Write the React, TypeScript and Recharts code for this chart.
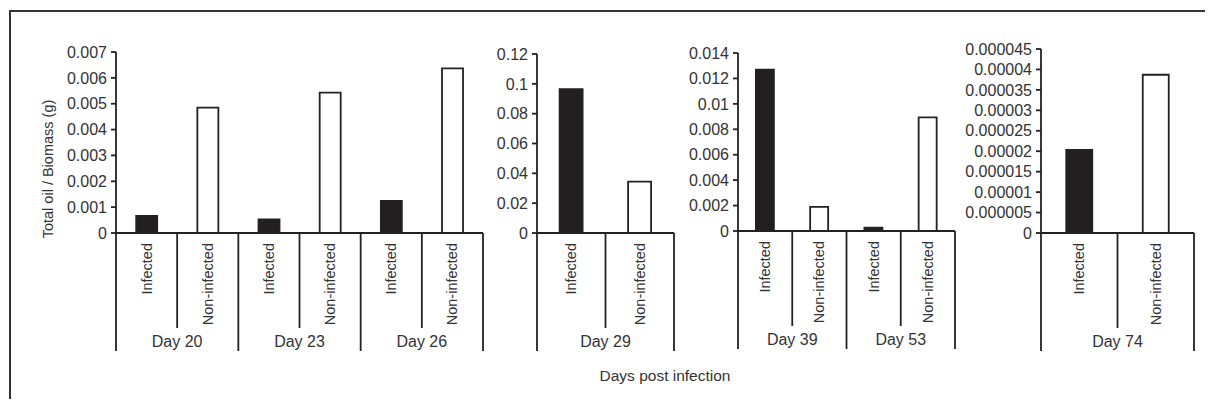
import { BarChart, Bar, XAxis, YAxis, Cell } from 'recharts';

const DAYS = ['Day 20', 'Day 23', 'Day 26', 'Day 29', 'Day 39', 'Day 53', 'Day 74'];
const GROUPS = ['Infected', 'Non-infected'];
const INFECTED = [0.00066, 0.00053, 0.00124, 0.0965, 0.0127, 0.00026, 0.0000203];
const NON_INFECTED = [0.00485, 0.00543, 0.00637, 0.0345, 0.0019, 0.00893, 0.0000387];

const TICKS_A = [0, 0.001, 0.002, 0.003, 0.004, 0.005, 0.006, 0.007];
const TICKS_B = [0, 0.02, 0.04, 0.06, 0.08, 0.1, 0.12];
const TICKS_C = [0, 0.002, 0.004, 0.006, 0.008, 0.01, 0.012, 0.014];
const TICKS_D = [0, 0.000005, 0.00001, 0.000015, 0.00002, 0.000025, 0.00003, 0.000035, 0.00004, 0.000045];

const INK = '#222';
const SW = 1.8;
const FONT = '"Liberation Sans", Arial, Helvetica, sans-serif';

// which days go in which panel, plus where each panel sits on the page
const PANELS = [
  { days: [0, 1, 2], ticks: TICKS_A, axisX: 116, endX: 483, topY: 52, zeroY: 233, yw: 100 },
  { days: [3], ticks: TICKS_B, axisX: 537, endX: 674, topY: 54, zeroY: 233, yw: 70 },
  { days: [4, 5], ticks: TICKS_C, axisX: 738, endX: 955, topY: 53, zeroY: 231, yw: 70 },
  { days: [6], ticks: TICKS_D, axisX: 1041, endX: 1194, topY: 49, zeroY: 233, yw: 90 },
];

type Row = { key: string; day: string; group: string; value: number };

function CatTick(props: any) {
  const { x, y, index, rows, bw } = props;
  const row: Row = rows[index];
  const left = x - bw / 2;
  const right = x + bw / 2;
  const infected = row.group === 'Infected';
  return (
    <g>
      {index === 0 && <line x1={left} x2={left} y1={y} y2={y + 118} stroke={INK} strokeWidth={SW} />}
      <line x1={right} x2={right} y1={y} y2={y + (infected ? 95 : 118)} stroke={INK} strokeWidth={SW} />
      <text
        x={x}
        y={y + 10}
        dy="0.35em"
        transform={`rotate(-90 ${x} ${y + 10})`}
        textAnchor="end"
        fontSize={14.5}
        fontFamily={FONT}
        fill="#333"
      >
        {row.group}
      </text>
      {!infected && (
        <text x={left} y={y + 114} textAnchor="middle" fontSize={16} fontFamily={FONT} fill="#333">
          {row.day}
        </text>
      )}
    </g>
  );
}

function YTitle(props: any) {
  const { viewBox } = props;
  const cx = viewBox.x + 32;
  const cy = viewBox.y + viewBox.height / 2 + 26.5;
  return (
    <text
      x={cx}
      y={cy}
      dy="0.35em"
      transform={`rotate(-90 ${cx} ${cy})`}
      textAnchor="middle"
      fontSize={14.5}
      fontFamily={FONT}
      fill="#333"
    >
      Total oil / Biomass (g)
    </text>
  );
}

function Panel({ p, first }: { p: (typeof PANELS)[number]; first: boolean }) {
  const rows: Row[] = [];
  p.days.forEach((d) => {
    rows.push({ key: `${DAYS[d]}-${GROUPS[0]}`, day: DAYS[d], group: GROUPS[0], value: INFECTED[d] });
    rows.push({ key: `${DAYS[d]}-${GROUPS[1]}`, day: DAYS[d], group: GROUPS[1], value: NON_INFECTED[d] });
  });
  const left = p.axisX - p.yw;
  const width = p.endX - left + 4;
  const bw = (p.endX - p.axisX) / rows.length;
  const max = p.ticks[p.ticks.length - 1];

  return (
    <div style={{ position: 'absolute', left, top: 0 }}>
      <BarChart
        width={width}
        height={407}
        data={rows}
        margin={{ top: p.topY, right: 4, bottom: 0, left: 0 }}
        barCategoryGap="33%"
      >
        <XAxis
          dataKey="key"
          height={407 - p.zeroY}
          interval={0}
          tickSize={0}
          tickMargin={0}
          tickLine={false}
          axisLine={{ stroke: INK, strokeWidth: SW }}
          tick={<CatTick rows={rows} bw={bw} />}
        />
        <YAxis
          width={p.yw}
          domain={[0, max]}
          ticks={p.ticks}
          interval={0}
          tickSize={5}
          tickMargin={4}
          axisLine={{ stroke: INK, strokeWidth: SW }}
          tickLine={{ stroke: INK, strokeWidth: SW }}
          tick={{ fill: '#333', fontSize: 16, fontFamily: FONT }}
          label={first ? <YTitle /> : undefined}
        />
        <Bar dataKey="value" stroke={INK} strokeWidth={SW} isAnimationActive={false}>
          {rows.map((r) => (
            <Cell key={r.key} fill={r.group === 'Infected' ? '#231f20' : '#fff'} />
          ))}
        </Bar>
      </BarChart>
    </div>
  );
}

export default function App() {
  return (
    <div
      style={{
        position: 'relative',
        width: 1213,
        height: 407,
        margin: -8,
        overflow: 'hidden',
        background: '#fff',
      }}
    >
      <div
        style={{
          position: 'absolute',
          left: 9,
          top: 10,
          width: 1300,
          height: 500,
          borderTop: '2px solid #333',
          borderLeft: '2px solid #333',
        }}
      />
      {PANELS.map((p, i) => (
        <Panel key={i} p={p} first={i === 0} />
      ))}
      <div
        style={{
          position: 'absolute',
          left: 565,
          width: 200,
          top: 367,
          textAlign: 'center',
          fontFamily: FONT,
          fontSize: 15.5,
          color: '#333',
        }}
      >
        Days post infection
      </div>
    </div>
  );
}
